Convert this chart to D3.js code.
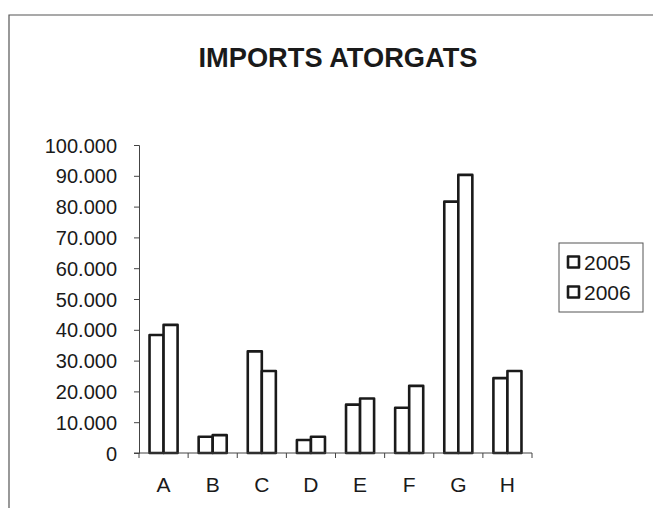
<!DOCTYPE html>
<html>
<head>
<meta charset="utf-8">
<script src="https://cdn.jsdelivr.net/npm/d3@7"></script>
<style>
  html, body { margin: 0; padding: 0; background: #fff; }
  svg { display: block; }
  text { font-family: "Liberation Sans", Arial, Helvetica, sans-serif; fill: #1a1a1a; }
</style>
</head>
<body>
<svg id="chart" width="653" height="508"></svg>
<script>
// Imports by category, two years
const categories = ["A", "B", "C", "D", "E", "F", "G", "H"];
const seriesNames = ["2005", "2006"];
const values2005 = [38300, 5300, 33000, 4200, 15700, 14700, 81600, 24300];
const values2006 = [41600, 5800, 26600, 5300, 17700, 21800, 90300, 26600];
const yTicks = [0, 10000, 20000, 30000, 40000, 50000, 60000, 70000, 80000, 90000, 100000];
const title = "IMPORTS ATORGATS";

const svg = d3.select("#chart");
const W = 653, H = 508;

const plot = { left: 139, right: 532, top: 145, bottom: 453 };

// Frame around the chart area
svg.append("path")
  .attr("d", `M9,${H} L9,15 L${W},15`)
  .attr("fill", "none")
  .attr("stroke", "#555")
  .attr("stroke-width", 1.2);

svg.append("text")
  .attr("x", 338)
  .attr("y", 67)
  .attr("text-anchor", "middle")
  .attr("textLength", 279)
  .attr("lengthAdjust", "spacingAndGlyphs")
  .style("font-weight", "bold")
  .style("font-size", "28px")
  .text(title);

const x = d3.scaleBand()
  .domain(categories)
  .range([plot.left, plot.right])
  .paddingInner(3 / 7)
  .paddingOuter(1.5 / 7);

const xs = d3.scaleBand()
  .domain(seriesNames)
  .range([0, x.bandwidth()]);

const y = d3.scaleLinear()
  .domain([0, 100000])
  .range([plot.bottom, plot.top]);

const locale = d3.formatLocale({ decimal: ",", thousands: ".", grouping: [3], currency: ["", "€"] });
const fmt = locale.format(",d");

// Bars
const rows = categories.map((c, i) => ({ cat: c, vals: [values2005[i], values2006[i]] }));
const g = svg.append("g");
rows.forEach(r => {
  r.vals.forEach((v, j) => {
    g.append("rect")
      .attr("x", x(r.cat) + xs(seriesNames[j]))
      .attr("y", y(v))
      .attr("width", xs.bandwidth())
      .attr("height", y(0) - y(v))
      .attr("fill", "#fff")
      .attr("stroke", "#1a1a1a")
      .attr("stroke-width", 2.6)
      .attr("stroke-linejoin", "round");
  });
});

// Y axis
const yAxis = d3.axisLeft(y).tickValues(yTicks).tickSize(5).tickPadding(17).tickFormat(fmt);
const ya = svg.append("g").attr("transform", `translate(${plot.left},0)`).call(yAxis);
ya.select(".domain").attr("stroke", "#444").attr("stroke-width", 1);
ya.selectAll(".tick line").attr("stroke", "#444");
ya.selectAll("text").style("font-size", "20px").attr("dy", "0.35em").attr("fill", "#1a1a1a");

// X axis with ticks on category boundaries
const xa = svg.append("g").attr("transform", `translate(0,${plot.bottom})`);
xa.append("line")
  .attr("x1", plot.left - 5).attr("x2", plot.right)
  .attr("stroke", "#444").attr("stroke-width", 1);
const step = x.step();
const bounds = d3.range(categories.length + 1).map(i => plot.left + i * step);
xa.selectAll(".bt").data(bounds).join("line")
  .attr("x1", d => d).attr("x2", d => d)
  .attr("y1", 0).attr("y2", 5)
  .attr("stroke", "#444");
xa.selectAll(".cl").data(categories).join("text")
  .attr("x", d => x(d) + x.bandwidth() / 2)
  .attr("y", 39)
  .attr("text-anchor", "middle")
  .style("font-size", "21px")
  .text(d => d);

// Legend
const lg = svg.append("g");
lg.append("rect")
  .attr("x", 559).attr("y", 243).attr("width", 84).attr("height", 69)
  .attr("fill", "#fff").attr("stroke", "#555").attr("stroke-width", 1);
seriesNames.forEach((s, i) => {
  const cy = 262 + i * 30;
  lg.append("rect")
    .attr("x", 568).attr("y", cy - 5.5).attr("width", 11).attr("height", 11)
    .attr("fill", "#fff").attr("stroke", "#1a1a1a").attr("stroke-width", 2.6)
    .attr("stroke-linejoin", "round");
  lg.append("text")
    .attr("x", 584).attr("y", cy + 7.5)
    .style("font-size", "21px")
    .text(s);
});
</script>
</body>
</html>
